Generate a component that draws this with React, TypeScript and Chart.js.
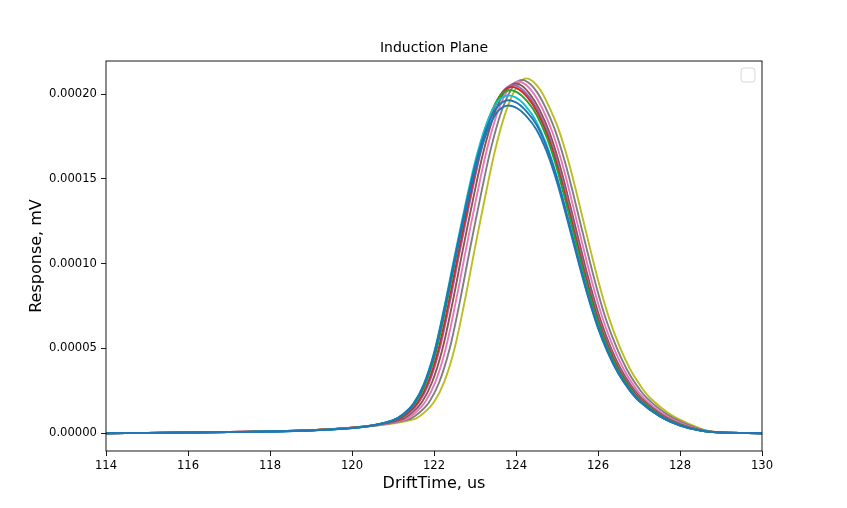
import React, { useEffect, useRef } from "react";
import { Chart, registerables } from "chart.js";
Chart.register(...registerables);

// Tick positions
const xTicks = [114, 116, 118, 120, 122, 124, 126, 128, 130];
const yTicks = [0, 0.00005, 0.0001, 0.00015, 0.0002];

// Response curves, values in units of 1e-5 mV
const blueTime = [114, 116, 118, 119, 120, 120.5, 121, 121.25, 121.5, 121.75, 122, 122.25, 122.5, 122.75, 123, 123.25, 123.5, 123.75, 124, 124.25, 124.5, 124.75, 125, 125.25, 125.5, 125.75, 126, 126.25, 126.5, 126.75, 127, 127.5, 128, 128.5, 129, 130];
const blueResp = [0, 0.04, 0.1, 0.16, 0.3, 0.45, 0.75, 1.1, 1.7, 2.8, 4.6, 7.2, 10.1, 12.9, 15.5, 17.5, 18.8, 19.3, 19.2, 18.7, 17.9, 16.6, 14.8, 12.6, 10.3, 8.1, 6.2, 4.7, 3.5, 2.6, 1.9, 1.0, 0.45, 0.15, 0.04, 0];

const blue2Time = [114, 116, 118, 119, 120, 120.5, 121, 121.25, 121.5, 121.75, 122, 122.25, 122.5, 122.75, 123, 123.25, 123.5, 123.75, 124, 124.25, 124.5, 124.75, 125, 125.25, 125.5, 125.75, 126, 126.25, 126.5, 126.75, 127, 127.5, 128, 128.5, 129, 130];
const blue2Resp = [0, 0.04, 0.1, 0.16, 0.3, 0.46, 0.76, 1.12, 1.73, 2.84, 4.67, 7.32, 10.26, 13.11, 15.75, 17.78, 19.1, 19.61, 19.51, 19.0, 18.19, 16.87, 15.04, 12.8, 10.46, 8.23, 6.3, 4.78, 3.56, 2.64, 1.93, 1.02, 0.46, 0.15, 0.04, 0];

const cyanTime = [114, 116, 118, 119, 120, 120.5, 121, 121.25, 121.5, 121.75, 122, 122.25, 122.5, 122.75, 123, 123.25, 123.5, 123.75, 123.99, 124.24, 124.48, 124.73, 124.98, 125.23, 125.48, 125.73, 125.98, 126.23, 126.48, 126.73, 126.98, 127.48, 127.98, 128.49, 129, 130];
const cyanResp = [0, 0.04, 0.1, 0.16, 0.31, 0.46, 0.77, 1.13, 1.75, 2.89, 4.74, 7.42, 10.41, 13.3, 15.98, 18.04, 19.38, 19.9, 19.8, 19.28, 18.45, 17.11, 15.26, 12.99, 10.62, 8.35, 6.39, 4.85, 3.61, 2.68, 1.96, 1.03, 0.46, 0.15, 0.04, 0];

const greenTime = [114, 116, 118, 119, 120, 120.53, 121.05, 121.3, 121.55, 121.8, 122.05, 122.3, 122.55, 122.8, 123.05, 123.3, 123.55, 123.79, 124.03, 124.27, 124.51, 124.76, 125.01, 125.26, 125.51, 125.76, 126.01, 126.26, 126.51, 126.76, 127.01, 127.51, 128.01, 128.5, 129, 130];
const greenResp = [0, 0.04, 0.1, 0.17, 0.31, 0.47, 0.79, 1.15, 1.78, 2.93, 4.82, 7.54, 10.57, 13.51, 16.23, 18.32, 19.68, 20.21, 20.1, 19.58, 18.74, 17.38, 15.5, 13.19, 10.78, 8.48, 6.49, 4.92, 3.66, 2.72, 1.99, 1.05, 0.47, 0.16, 0.04, 0];

const redTime = [114, 116, 118, 119, 120, 120.55, 121.1, 121.35, 121.6, 121.85, 122.1, 122.35, 122.6, 122.85, 123.1, 123.35, 123.6, 123.83, 124.06, 124.29, 124.52, 124.77, 125.02, 125.27, 125.52, 125.77, 126.02, 126.27, 126.52, 126.77, 127.02, 127.52, 128.02, 128.51, 129, 130];
const redResp = [0, 0.04, 0.11, 0.17, 0.32, 0.48, 0.79, 1.16, 1.8, 2.96, 4.86, 7.61, 10.68, 13.64, 16.38, 18.5, 19.87, 20.4, 20.29, 19.77, 18.92, 17.55, 15.64, 13.32, 10.89, 8.56, 6.55, 4.97, 3.7, 2.75, 2.01, 1.06, 0.48, 0.16, 0.04, 0];

const purpleTime = [114, 116, 118, 119, 120, 120.57, 121.13, 121.38, 121.63, 121.88, 122.13, 122.38, 122.63, 122.88, 123.13, 123.38, 123.63, 123.86, 124.09, 124.31, 124.54, 124.79, 125.04, 125.29, 125.54, 125.79, 126.04, 126.29, 126.54, 126.79, 127.04, 127.54, 128.04, 128.52, 129, 130];
const purpleResp = [0, 0.04, 0.11, 0.17, 0.32, 0.48, 0.8, 1.17, 1.81, 2.97, 4.89, 7.65, 10.73, 13.7, 16.46, 18.59, 19.97, 20.5, 20.39, 19.86, 19.01, 17.63, 15.72, 13.38, 10.94, 8.6, 6.58, 4.99, 3.72, 2.76, 2.02, 1.06, 0.48, 0.16, 0.04, 0];

const brownTime = [114, 116, 118, 119, 120, 120.6, 121.2, 121.45, 121.7, 121.95, 122.2, 122.45, 122.7, 122.95, 123.2, 123.45, 123.7, 123.92, 124.14, 124.35, 124.57, 124.82, 125.07, 125.32, 125.57, 125.82, 126.07, 126.32, 126.57, 126.82, 127.07, 127.57, 128.07, 128.54, 129, 130];
const brownResp = [0, 0.04, 0.11, 0.17, 0.32, 0.48, 0.8, 1.17, 1.81, 2.99, 4.91, 7.68, 10.78, 13.76, 16.54, 18.67, 20.06, 20.59, 20.49, 19.95, 19.1, 17.71, 15.79, 13.44, 10.99, 8.64, 6.62, 5.01, 3.73, 2.77, 2.03, 1.07, 0.48, 0.16, 0.04, 0];

const pinkTime = [114, 116, 118, 119, 120, 120.64, 121.28, 121.53, 121.78, 122.03, 122.28, 122.53, 122.78, 123.03, 123.28, 123.53, 123.78, 123.99, 124.21, 124.42, 124.63, 124.88, 125.13, 125.38, 125.63, 125.88, 126.13, 126.38, 126.63, 126.88, 127.13, 127.63, 128.13, 128.57, 129, 130];
const pinkResp = [0, 0.04, 0.11, 0.17, 0.32, 0.48, 0.8, 1.18, 1.82, 3.0, 4.94, 7.73, 10.84, 13.84, 16.63, 18.78, 20.17, 20.71, 20.6, 20.07, 19.21, 17.81, 15.88, 13.52, 11.05, 8.69, 6.65, 5.04, 3.76, 2.79, 2.04, 1.07, 0.48, 0.16, 0.04, 0];

const grayTime = [114, 116, 118, 119, 120, 120.69, 121.38, 121.63, 121.88, 122.13, 122.38, 122.63, 122.88, 123.13, 123.38, 123.63, 123.88, 124.09, 124.29, 124.5, 124.7, 124.95, 125.2, 125.45, 125.7, 125.95, 126.2, 126.45, 126.7, 126.95, 127.2, 127.7, 128.2, 128.6, 129, 130];
const grayResp = [0, 0.04, 0.11, 0.17, 0.32, 0.49, 0.81, 1.19, 1.83, 3.02, 4.96, 7.76, 10.89, 13.91, 16.71, 18.87, 20.27, 20.81, 20.7, 20.16, 19.3, 17.89, 15.95, 13.58, 11.1, 8.73, 6.68, 5.07, 3.77, 2.8, 2.05, 1.08, 0.49, 0.16, 0.04, 0];

const oliveTime = [114, 116, 118, 119, 120, 120.75, 121.5, 121.75, 122, 122.25, 122.5, 122.75, 123, 123.25, 123.5, 123.75, 124, 124.2, 124.39, 124.59, 124.78, 125.03, 125.28, 125.53, 125.78, 126.03, 126.28, 126.53, 126.78, 127.03, 127.28, 127.78, 128.28, 128.64, 129, 130];
const oliveResp = [0, 0.04, 0.11, 0.17, 0.32, 0.49, 0.81, 1.19, 1.84, 3.03, 4.98, 7.8, 10.94, 13.97, 16.79, 18.95, 20.36, 20.9, 20.79, 20.25, 19.39, 17.98, 16.03, 13.65, 11.15, 8.77, 6.71, 5.09, 3.79, 2.82, 2.06, 1.08, 0.49, 0.16, 0.04, 0];

// first entry is drawn on top
const series = [
  { color: "#1f77b4", time: blueTime, resp: blueResp },
  { color: "#1f77b4", time: blue2Time, resp: blue2Resp },
  { color: "#17becf", time: cyanTime, resp: cyanResp },
  { color: "#2ca02c", time: greenTime, resp: greenResp },
  { color: "#d62728", time: redTime, resp: redResp },
  { color: "#9467bd", time: purpleTime, resp: purpleResp },
  { color: "#8c564b", time: brownTime, resp: brownResp },
  { color: "#e377c2", time: pinkTime, resp: pinkResp },
  { color: "#7f7f7f", time: grayTime, resp: grayResp },
  { color: "#bcbd22", time: oliveTime, resp: oliveResp },
];

const FONT = "'DejaVu Sans', sans-serif";

// axes frame, title, axis labels and the empty legend box
const decorPlugin = {
  id: "decor",
  afterDraw(chart: any) {
    const { ctx, chartArea: a } = chart;
    ctx.save();
    ctx.strokeStyle = "#000";
    ctx.lineWidth = 0.9;
    ctx.strokeRect(a.left, a.top, a.right - a.left, a.bottom - a.top);

    const s = 14;
    ctx.beginPath();
    ctx.roundRect(a.right - 7 - s, a.top + 7, s, s, 3);
    ctx.fillStyle = "rgba(255,255,255,0.8)";
    ctx.fill();
    ctx.strokeStyle = "#d6d6d6";
    ctx.lineWidth = 1;
    ctx.stroke();

    ctx.fillStyle = "#000";
    ctx.textAlign = "center";
    ctx.textBaseline = "alphabetic";
    ctx.font = `14px ${FONT}`;
    ctx.fillText("Induction Plane", (a.left + a.right) / 2, a.top - 9);
    ctx.font = `16px ${FONT}`;
    ctx.fillText("DriftTime, us", (a.left + a.right) / 2, a.bottom + 37);
    ctx.translate(a.left - 65, (a.top + a.bottom) / 2);
    ctx.rotate(-Math.PI / 2);
    ctx.fillText("Response, mV", 0, 0);
    ctx.restore();
  },
};

export default function App() {
  const canvasRef = useRef<HTMLCanvasElement | null>(null);

  useEffect(() => {
    document.body.style.margin = "0";
    if (!canvasRef.current) return;

    const datasets = series.map((s) => ({
      data: s.time.map((t, i) => ({ x: t, y: s.resp[i] * 1e-5 })),
      borderColor: s.color,
      backgroundColor: "transparent",
      borderWidth: 1.9,
      pointRadius: 0,
      tension: 0.35,
    }));

    const tickFont = { family: FONT, size: 11.6 };

    const chart = new Chart(canvasRef.current, {
      type: "line",
      data: { datasets },
      plugins: [decorPlugin],
      options: {
        responsive: false,
        animation: false,
        layout: { padding: { top: 61, right: 85, left: 0, bottom: 0 } },
        plugins: { legend: { display: false }, tooltip: { enabled: false } },
        scales: {
          x: {
            type: "linear",
            min: 114,
            max: 130,
            afterBuildTicks: (scale: any) => {
              scale.ticks = xTicks.map((v) => ({ value: v }));
            },
            afterFit: (scale: any) => {
              scale.height = 57;
            },
            border: { display: false },
            grid: { drawOnChartArea: false, tickLength: 5, tickColor: "#000", tickWidth: 0.9 },
            ticks: { color: "#000", font: tickFont, padding: 3, maxRotation: 0, callback: (v: any) => String(v) },
          },
          y: {
            type: "linear",
            min: -0.0000105,
            max: 0.0002195,
            afterBuildTicks: (scale: any) => {
              scale.ticks = yTicks.map((v) => ({ value: v }));
            },
            afterFit: (scale: any) => {
              scale.width = 106;
            },
            border: { display: false },
            grid: { drawOnChartArea: false, tickLength: 5, tickColor: "#000", tickWidth: 0.9 },
            ticks: { color: "#000", font: tickFont, padding: 4, callback: (v: any) => Number(v).toFixed(5) },
          },
        },
      },
    });

    return () => chart.destroy();
  }, []);

  return (
    <div style={{ width: 847, height: 508, background: "#fff" }}>
      <canvas ref={canvasRef} width={847} height={508} />
    </div>
  );
}
